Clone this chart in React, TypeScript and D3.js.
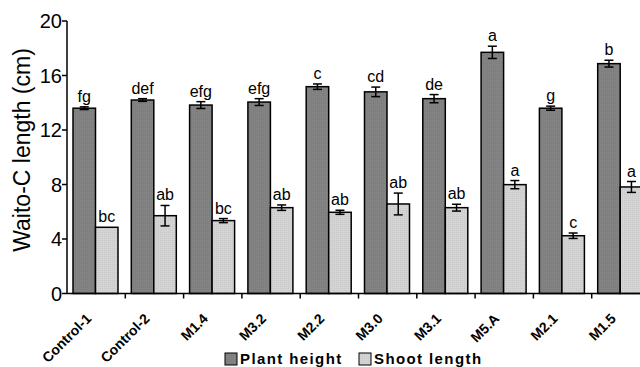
import React from "react";
import * as d3 from "d3";

const categories = ["Control-1", "Control-2", "M1.4", "M3.2", "M2.2", "M3.0", "M3.1", "M5.A", "M2.1", "M1.5"];
const seriesNames = ["Plant height", "Shoot length"];
const plantHeight = [13.6, 14.2, 13.83, 14.05, 15.18, 14.8, 14.3, 17.7, 13.6, 16.87];
const plantErr = [0.1, 0.1, 0.25, 0.25, 0.2, 0.35, 0.3, 0.45, 0.15, 0.25];
const plantLetters = ["fg", "def", "efg", "efg", "c", "cd", "de", "a", "g", "b"];
const shootLength = [4.86, 5.71, 5.35, 6.3, 5.96, 6.57, 6.3, 7.99, 4.24, 7.82];
const shootErr = [0, 0.75, 0.15, 0.2, 0.15, 0.8, 0.25, 0.3, 0.2, 0.4];
const shootLetters = ["bc", "ab", "bc", "ab", "ab", "ab", "ab", "a", "c", "a"];
const yTicks = [0, 4, 8, 12, 16, 20];

const colors = ["#7f7f7f", "#d4d4d4"];

export default function App() {
  const x0 = 67;
  const step = 58.3;
  const x = d3.scaleBand().domain(categories).range([x0, x0 + step * categories.length]).padding(0);
  const xs = d3.scaleBand().domain(seriesNames).range([6, 51]).padding(0);
  const y = d3.scaleLinear().domain([0, 20]).range([293.5, 21]);
  const labelsRef = React.useRef<SVGGElement>(null);

  const series = [
    { name: seriesNames[0], vals: plantHeight, errs: plantErr, letters: plantLetters },
    { name: seriesNames[1], vals: shootLength, errs: shootErr, letters: shootLetters },
  ];
  const font = "Arial, 'Liberation Sans', sans-serif";

  React.useEffect(() => {
    const g = d3.select(labelsRef.current);
    g.selectAll("*").remove();
    categories.forEach((c, i) => {
      const tx = (x(c) as number) + step / 2 - 4;
      const ty = y(0) + 26;
      const L = 100;
      const d = `M${tx - L * Math.SQRT1_2},${ty + L * Math.SQRT1_2} L${tx},${ty}`;
      g.append("path").attr("id", `lp${i}`).attr("d", d).attr("fill", "none").attr("stroke", "none");
      g.append("text")
        .attr("font-size", 14)
        .attr("font-weight", "bold")
        .attr("fill", "#000")
        .attr("text-anchor", "end")
        .append("textPath")
        .attr("href", `#lp${i}`)
        .attr("startOffset", "100%")
        .text(c);
    });
  }, []);

  return (
    <svg width={640} height={367} style={{ position: "absolute", left: 0, top: 0, background: "#fff" }} fontFamily={font}>
      <defs>
        <pattern id="p0" width="2" height="2" patternUnits="userSpaceOnUse">
          <rect width="2" height="2" fill={colors[0]} />
          <rect width="1" height="1" fill="#888" />
        </pattern>
        <pattern id="p1" width="2" height="2" patternUnits="userSpaceOnUse">
          <rect width="2" height="2" fill={colors[1]} />
          <rect width="1" height="1" fill="#c8c8c8" />
        </pattern>
      </defs>
      {/* bars */}
      {categories.map((c, i) =>
        series.map((s, si) => {
          const bx = (x(c) as number) + (xs(s.name) as number);
          const bw = xs.bandwidth();
          const v = s.vals[i];
          const e = s.errs[i];
          const cx = bx + bw / 2;
          const top = y(v + e);
          return (
            <g key={c + si}>
              <rect x={bx} y={y(v)} width={bw} height={y(0) - y(v)} fill={`url(#p${si})`} stroke="#000" strokeWidth={1.5} />
              {e > 0 && (
                <g stroke="#000" strokeWidth={1.5}>
                  <line x1={cx} x2={cx} y1={y(v - e)} y2={y(v + e)} />
                  <line x1={cx - 4.5} x2={cx + 4.5} y1={y(v + e)} y2={y(v + e)} />
                  <line x1={cx - 4.5} x2={cx + 4.5} y1={y(v - e)} y2={y(v - e)} />
                </g>
              )}
              <text x={cx} y={top - 5} textAnchor="middle" fontSize={16} fill="#000">
                {s.letters[i]}
              </text>
            </g>
          );
        })
      )}
      {/* y axis */}
      <line x1={x0} x2={x0} y1={y(20)} y2={y(0)} stroke="#000" strokeWidth={1.5} />
      {yTicks.map((t) => (
        <g key={t}>
          <line x1={x0 - 5} x2={x0} y1={y(t)} y2={y(t)} stroke="#000" strokeWidth={1.5} />
          <text x={x0 - 5} y={y(t)} dy="0.35em" textAnchor="end" fontSize={20} fill="#000">
            {t}
          </text>
        </g>
      ))}
      {/* x axis */}
      <line x1={x0} x2={x0 + step * categories.length} y1={y(0)} y2={y(0)} stroke="#000" strokeWidth={1.5} />
      {categories.map((c) => (
        <line key={c} x1={(x(c) as number) + step} x2={(x(c) as number) + step} y1={y(0)} y2={y(0) + 5} stroke="#000" strokeWidth={1.5} />
      ))}
      <g ref={labelsRef} />
      {/* y label */}
      <g transform={`translate(30,150) rotate(-90)`}>
        <text textAnchor="middle" fontSize={23} fill="#000">
          Waito-C length (cm)
        </text>
      </g>
      {/* legend */}
      {series.map((s, si) => {
        const lx = si === 0 ? 225 : 359;
        return (
          <g key={s.name}>
            <rect x={lx} y={353} width={12} height={12} fill={`url(#p${si})`} stroke="#000" strokeWidth={1} />
            <text x={lx + 15} y={364} fontSize={15} fontWeight="bold" letterSpacing={1.4} fill="#000">
              {s.name}
            </text>
          </g>
        );
      })}
    </svg>
  );
}
